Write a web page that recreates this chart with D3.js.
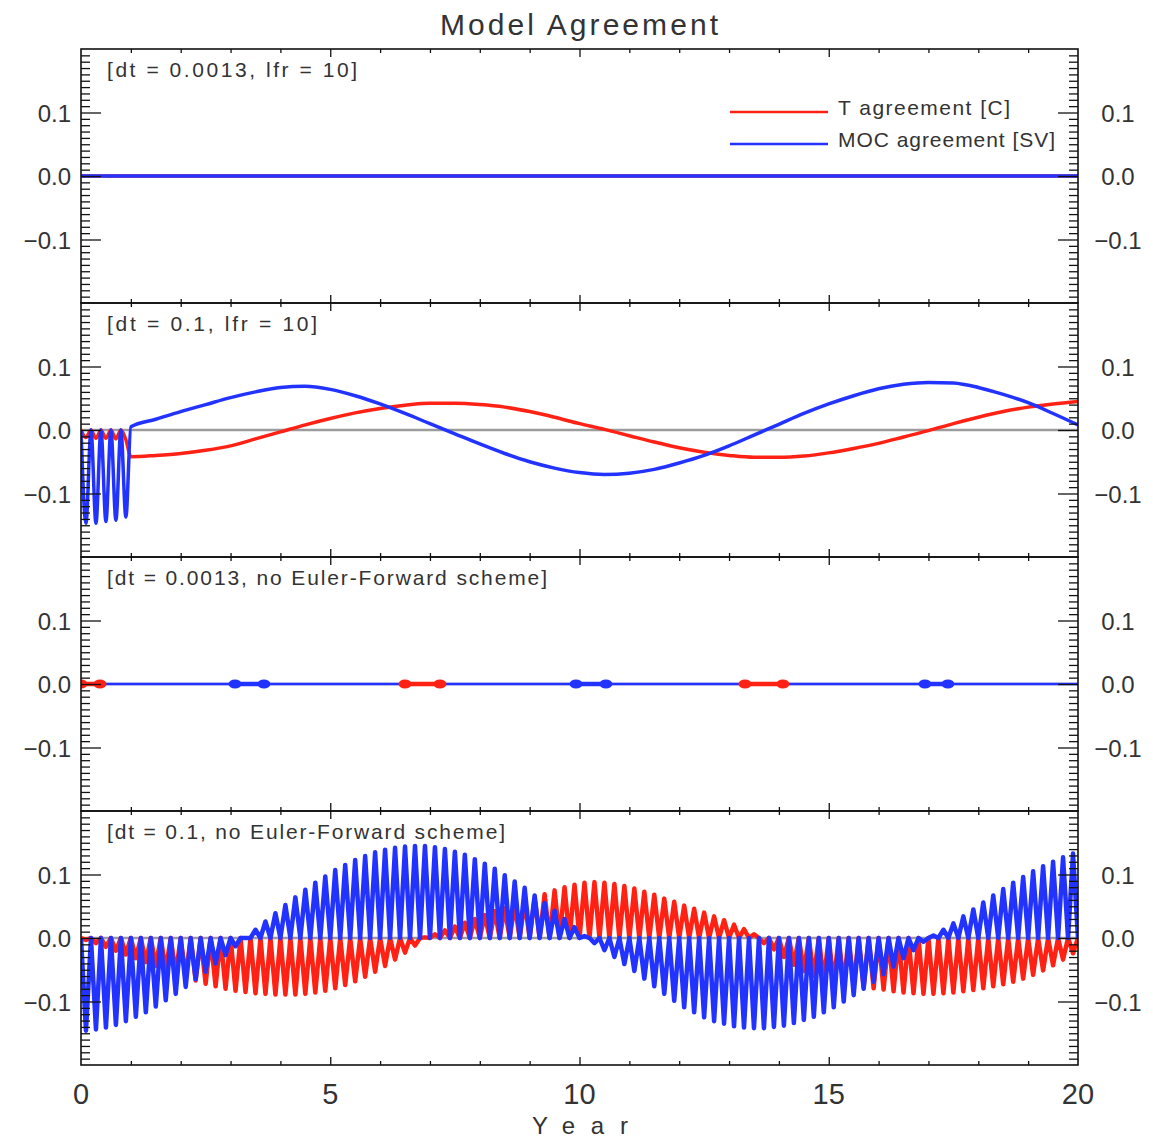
<!DOCTYPE html>
<html>
<head>
<meta charset="utf-8">
<script src="https://cdn.jsdelivr.net/npm/d3@7"></script>
<style>
body { margin: 0; background: #fff; }
svg { display: block; }
text { font-family: "Liberation Sans", Arial, sans-serif; fill: #333; }
</style>
</head>
<body>
<svg id="chart" width="1153" height="1140"></svg>
<script>
// ---- data ----
var titleText = "Model Agreement";
var xLabel = "Year";
var seriesNames = ["T agreement [C]", "MOC agreement [SV]"];
var panelLabels = [
  "[dt = 0.0013, lfr = 10]",
  "[dt = 0.1, lfr = 10]",
  "[dt = 0.0013, no Euler-Forward scheme]",
  "[dt = 0.1, no Euler-Forward scheme]"
];
var xTicks = [0, 5, 10, 15, 20];
var yTicks = [-0.1, 0.0, 0.1];

// panel 1: both flat
var p1Years = [0, 20];
var p1Red = [0, 0];
var p1Blue = [0, 0];

// panel 2
var p2Years = [0, 0.1, 0.2, 0.3, 0.4, 0.5, 0.6, 0.7, 0.8, 0.9, 1.0,
  1.5, 2, 2.5, 3, 3.5, 4, 4.5, 5, 5.5, 6, 6.5, 7, 7.5, 8, 8.5, 9, 9.5, 10,
  10.5, 11, 11.5, 12, 12.5, 13, 13.5, 14, 14.5, 15, 15.5, 16, 16.5, 17, 17.5,
  18, 18.5, 19, 19.5, 20];
var p2Red = [0, -0.012, 0, -0.013, 0, -0.013, 0, -0.014, 0, -0.015, -0.042,
  -0.040, -0.037, -0.032, -0.025, -0.014, -0.003, 0.008, 0.018, 0.027, 0.034,
  0.039, 0.042, 0.042, 0.040, 0.036, 0.029, 0.020, 0.010, 0.001, -0.009,
  -0.019, -0.028, -0.035, -0.040, -0.043, -0.043, -0.041, -0.036, -0.029,
  -0.021, -0.011, -0.001, 0.010, 0.020, 0.029, 0.036, 0.041, 0.045];
var p2Blue = [0, -0.147, 0, -0.147, 0, -0.144, 0, -0.142, 0, -0.137, 0.005,
  0.017, 0.029, 0.040, 0.051, 0.060, 0.067, 0.069, 0.064, 0.054, 0.041,
  0.026, 0.010, -0.006, -0.022, -0.037, -0.050, -0.060, -0.067, -0.070,
  -0.068, -0.062, -0.052, -0.040, -0.025, -0.008, 0.009, 0.026, 0.041,
  0.054, 0.065, 0.072, 0.075, 0.074, 0.067, 0.056, 0.043, 0.026, 0.008];

// panel 3: flat lines with short bursts (start, end year)
var p3Years = [0, 20];
var p3Red = [0, 0];
var p3Blue = [0, 0];
var p3RedBursts = [[0, 0.38], [6.5, 7.2], [13.32, 14.08]];
var p3BlueBursts = [[3.09, 3.67], [9.93, 10.53], [16.93, 17.39]];

// panel 4: 2-dt zigzag, samples every 0.1 yr; even samples sit on zero,
// odd samples (0.1, 0.3, ... 19.9) reach these tips
var p4Step = 0.1;
var p4Base = 0;
var p4RedTips = [
  -0.003, -0.008, -0.014, -0.020, -0.026, -0.032, -0.038, -0.044, -0.050, -0.056,
  -0.062, -0.067, -0.072, -0.076, -0.080, -0.083, -0.085, -0.087, -0.088, -0.089,
  -0.089, -0.089, -0.088, -0.086, -0.083, -0.079, -0.074, -0.068, -0.061, -0.053,
  -0.044, -0.034, -0.023, -0.012,
  0.001, 0.006, 0.012, 0.018, 0.024, 0.030, 0.036, 0.042, 0.047, 0.052,
  0.057, 0.063, 0.069, 0.075, 0.080, 0.084, 0.087, 0.088, 0.087, 0.085,
  0.082, 0.078, 0.073, 0.068, 0.062, 0.057, 0.051, 0.046, 0.040, 0.034,
  0.028, 0.021, 0.014, 0.006,
  -0.008, -0.018, -0.030, -0.042, -0.052, -0.060, -0.066, -0.070, -0.073, -0.075,
  -0.077, -0.079, -0.081, -0.084, -0.086, -0.087, -0.088, -0.088, -0.087, -0.086,
  -0.084, -0.082, -0.079, -0.076, -0.073, -0.069, -0.064, -0.058, -0.051, -0.043,
  -0.034, -0.024];
var p4BlueTips = [
  -0.146, -0.144, -0.141, -0.137, -0.131, -0.124, -0.117, -0.108, -0.098, -0.088,
  -0.077, -0.065, -0.053, -0.040, -0.027, -0.013, 0.000,
  0.013, 0.026, 0.039, 0.052, 0.064, 0.076, 0.087, 0.097, 0.107, 0.115,
  0.123, 0.129, 0.135, 0.139, 0.142, 0.144, 0.145, 0.145, 0.143, 0.140,
  0.136, 0.131, 0.124, 0.117, 0.109, 0.099, 0.089, 0.079, 0.067, 0.055,
  0.043, 0.030, 0.017, 0.003,
  -0.008, -0.019, -0.030, -0.041, -0.052, -0.064, -0.076, -0.088, -0.099, -0.109,
  -0.117, -0.125, -0.131, -0.135, -0.139, -0.141, -0.142, -0.142, -0.140, -0.138,
  -0.134, -0.129, -0.124, -0.117, -0.109, -0.100, -0.090, -0.080, -0.069, -0.057,
  -0.045, -0.032, -0.019, -0.006,
  0.004, 0.013, 0.023, 0.034, 0.045, 0.056, 0.067, 0.077, 0.087, 0.096,
  0.105, 0.113, 0.120, 0.127, 0.133];

// ---- layout ----
var RED = "#ff2214", BLUE = "#2233ff", ZERO = "#9c9c9c";
var left = 81, right = 1078, panelH = 254;
var panelTop = [49, 303, 557, 811];
var labelLen = [250, 210, 440, 398];
var lineW = [3.5, 3.5, 2, 4.5];

var svg = d3.select("#chart");
var x = d3.scaleLinear().domain([0, 20]).range([left, right]);

function zip(ts, vs) { return ts.map(function(t, i) { return [t, vs[i]]; }); }
function zigzag(tips) {
  var pts = [];
  for (var k = 0; k <= tips.length * 2; k++) {
    pts.push([k * p4Step, k % 2 ? tips[(k - 1) / 2] : p4Base]);
  }
  return pts;
}

var panels = [
  { red: zip(p1Years, p1Red), blue: zip(p1Years, p1Blue), zero: false },
  { red: zip(p2Years, p2Red), blue: zip(p2Years, p2Blue), zero: true },
  { red: zip(p3Years, p3Red), blue: zip(p3Years, p3Blue), zero: true,
    bursts: [[p3RedBursts, RED], [p3BlueBursts, BLUE]] },
  { red: zigzag(p4RedTips), blue: zigzag(p4BlueTips), zero: true }
];

var minorY = d3.range(-19, 20).filter(function(k) { return k % 10 !== 0; })
  .map(function(k) { return k / 100; });
var minorX = d3.range(1, 20).filter(function(k) { return k % 5 !== 0; });

panels.forEach(function(p, i) {
  var top = panelTop[i];
  var y = d3.scaleLinear().domain([-0.2, 0.2]).range([top + panelH, top]);
  var g = svg.append("g");

  g.append("clipPath").attr("id", "clip" + i)
    .append("rect").attr("x", left).attr("y", top)
    .attr("width", right - left).attr("height", panelH);
  var plot = g.append("g").attr("clip-path", "url(#clip" + i + ")");

  if (p.zero) {
    plot.append("line")
      .attr("x1", x(0)).attr("x2", x(20)).attr("y1", y(0)).attr("y2", y(0))
      .attr("stroke", ZERO).attr("stroke-width", 2.5);
  }

  var line = d3.line().x(function(d) { return x(d[0]); }).y(function(d) { return y(d[1]); });
  if (i === 1) line.curve(d3.curveMonotoneX);

  plot.append("path").datum(p.red).attr("d", line)
    .attr("fill", "none").attr("stroke", RED).attr("stroke-width", lineW[i])
    .attr("stroke-linejoin", "round");
  plot.append("path").datum(p.blue).attr("d", line)
    .attr("fill", "none").attr("stroke", BLUE).attr("stroke-width", lineW[i] + (i === 2 ? 0.5 : 0))
    .attr("stroke-linejoin", "round");

  if (p.bursts) {
    p.bursts.forEach(function(b) {
      b[0].forEach(function(seg) {
        plot.append("line")
          .attr("x1", x(seg[0])).attr("x2", x(seg[1]))
          .attr("y1", y(0)).attr("y2", y(0))
          .attr("stroke", b[1]).attr("stroke-width", 4.5);
        seg.forEach(function(t) {
          plot.append("ellipse").attr("cx", x(t)).attr("cy", y(0))
            .attr("rx", 6.5).attr("ry", 4.5).attr("fill", b[1]);
        });
      });
    });
  }

  // frame
  g.append("rect").attr("x", left).attr("y", top)
    .attr("width", right - left).attr("height", panelH)
    .attr("fill", "none").attr("stroke", "#111").attr("stroke-width", 1.6);

  // ticks
  function ax(axis, tx, ty) {
    var a = g.append("g").attr("transform", "translate(" + tx + "," + ty + ")").call(axis);
    a.select(".domain").remove();
    a.selectAll("line").attr("stroke", "#111").attr("stroke-width", 1.3);
    a.selectAll("text").remove();
  }
  ax(d3.axisRight(y).tickValues(minorY).tickSize(9), left, 0);
  ax(d3.axisRight(y).tickValues(yTicks).tickSize(20), left, 0);
  ax(d3.axisLeft(y).tickValues(minorY).tickSize(9), right, 0);
  ax(d3.axisLeft(y).tickValues(yTicks).tickSize(20), right, 0);
  ax(d3.axisBottom(x).tickValues(minorX).tickSize(4), 0, top);
  ax(d3.axisBottom(x).tickValues(xTicks.slice(1, -1)).tickSize(8), 0, top);
  ax(d3.axisTop(x).tickValues(minorX).tickSize(4), 0, top + panelH);
  ax(d3.axisTop(x).tickValues(xTicks.slice(1, -1)).tickSize(8), 0, top + panelH);

  // y tick labels
  var fmt = d3.format(".1f");
  yTicks.forEach(function(v) {
    g.append("text").attr("x", 71).attr("y", y(v) + 9)
      .attr("text-anchor", "end").attr("font-size", 24).text(fmt(v));
    g.append("text").attr("x", 1118).attr("y", y(v) + 9)
      .attr("text-anchor", "middle").attr("font-size", 24).text(fmt(v));
  });

  // panel label
  g.append("text").attr("x", 107).attr("y", top + 28)
    .attr("font-size", 21).attr("textLength", labelLen[i])
    .attr("lengthAdjust", "spacing").text(panelLabels[i]);
});

// legend in first panel
var legY = [112, 144], legLen = [172, 217], legCol = [RED, BLUE];
seriesNames.forEach(function(name, i) {
  svg.append("line").attr("x1", 730).attr("x2", 828)
    .attr("y1", legY[i]).attr("y2", legY[i])
    .attr("stroke", legCol[i]).attr("stroke-width", 2.5);
  svg.append("text").attr("x", 838).attr("y", legY[i] + 2.5)
    .attr("font-size", 21).attr("textLength", legLen[i])
    .attr("lengthAdjust", "spacing").text(name);
});

// x tick labels and axis title
xTicks.forEach(function(v) {
  svg.append("text").attr("x", x(v)).attr("y", 1104)
    .attr("text-anchor", "middle").attr("font-size", 29).text(v);
});
svg.append("text").attr("x", 580).attr("y", 1134)
  .attr("text-anchor", "middle").attr("font-size", 24)
  .attr("textLength", 96).attr("lengthAdjust", "spacing").text(xLabel);

svg.append("text").attr("x", 579).attr("y", 35)
  .attr("text-anchor", "middle").attr("font-size", 30)
  .attr("textLength", 278).attr("lengthAdjust", "spacing").text(titleText);
</script>
</body>
</html>
